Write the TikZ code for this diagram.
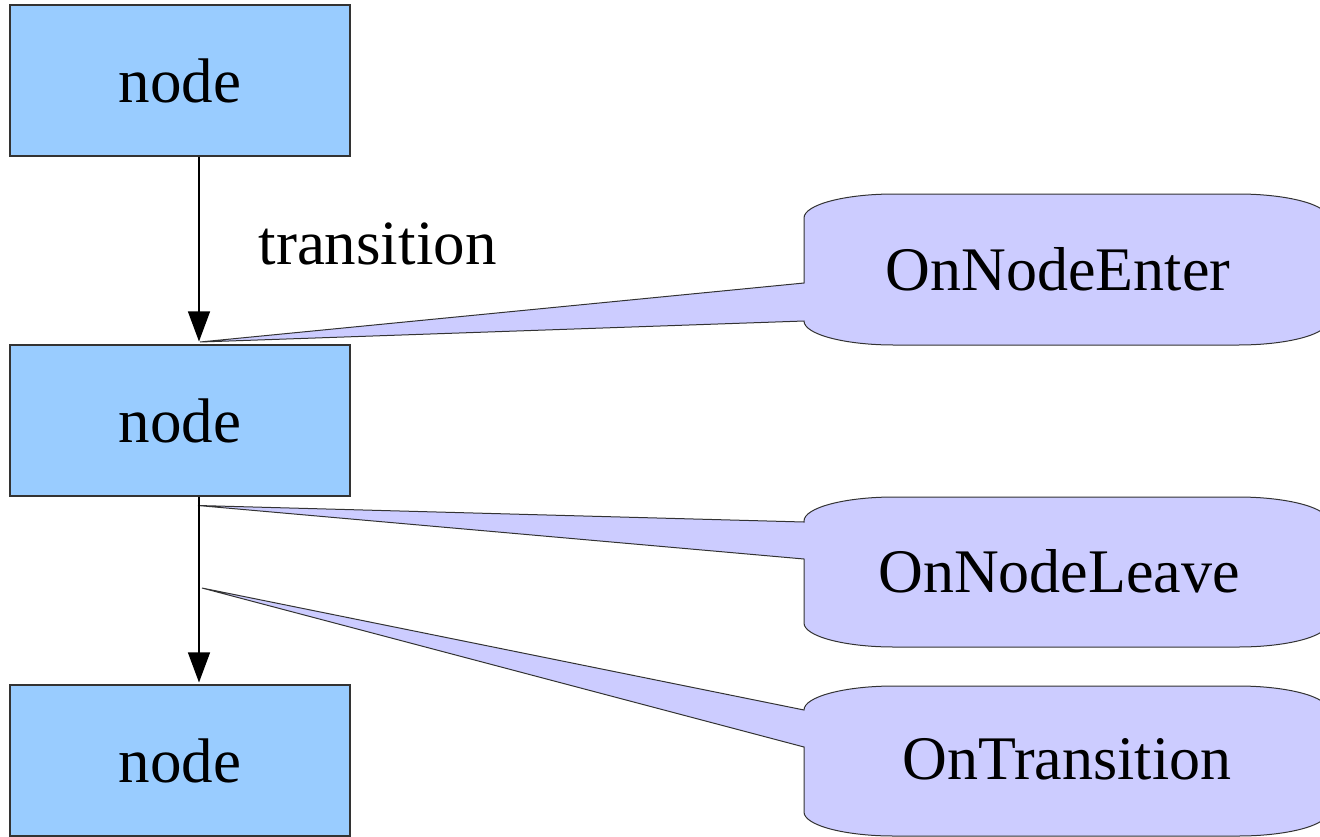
\documentclass[tikz,border=0pt]{standalone}
\usepackage{fontspec}
\setmainfont{Liberation Serif}
\usetikzlibrary{arrows.meta,calc}
\definecolor{boxblue}{HTML}{99CCFF}
\definecolor{bubblelilac}{HTML}{CCCCFF}
\definecolor{edgegray}{HTML}{333333}

% rounded speech bubble with a wedge-shaped tail on its left side
% #1 left, #2 top, #3 right, #4 bottom, #5/#6 tail base (upper/lower), #7 tail tip
\newcommand\drawbubble[7]{%
  \draw[bubble] (#1,#2+24) arc[start angle=180,end angle=90,x radius=90pt,y radius=24pt]
    -- (#3-90,#2) arc[start angle=90,end angle=0,x radius=90pt,y radius=24pt]
    -- (#3,#4-24) arc[start angle=0,end angle=-90,x radius=90pt,y radius=24pt]
    -- (#1+90,#4) arc[start angle=-90,end angle=-180,x radius=90pt,y radius=24pt]
    -- (#1,#6) -- (#7) -- (#1,#5) -- cycle;}

\begin{document}
\begin{tikzpicture}[x=1pt,y=-1pt,
  statebox/.style={draw=edgegray, line width=1.1pt, fill=boxblue,
    minimum width=340pt, minimum height=151pt, inner sep=0pt,
    font=\fontsize{63}{70}\selectfont},
  flow/.style={draw=black, line width=1.2pt, -{Triangle[length=30pt,width=22pt]}},
  bubble/.style={draw=edgegray, line width=1pt, fill=bubblelilac, line join=miter},
  bubbletext/.style={inner sep=0pt, font=\fontsize{62}{70}\selectfont},
  edgetext/.style={inner sep=0pt, font=\fontsize{63}{70}\selectfont}]
\useasboundingbox (0,0) rectangle (1320,836);

% state boxes
\node[statebox] (n1) at (180,80.5) {node};
\node[statebox] (n2) at (180,420.5) {node};
\node[statebox] (n3) at (180,760.5) {node};

% tips of the bubble tails
\coordinate (p1) at (200,342);
\coordinate (p2) at (198,505.5);
\coordinate (p3) at (202,588);

% event bubbles
\drawbubble{804}{194}{1328}{345}{283}{321}{p1}
\drawbubble{804}{497}{1328}{647}{522}{559}{p2}
\drawbubble{804}{686}{1328}{836}{710}{747}{p3}

\node[bubbletext] (c1) at (1058,269) {OnNodeEnter};
\node[bubbletext] (c2) at (1059,571) {OnNodeLeave};
\node[bubbletext] (c3) at (1067,759) {OnTransition};

% transitions between the boxes
\coordinate (ax) at (199,0);
\draw[flow, shorten >=3pt] (n1.south -| ax) -- (n2.north -| ax);
\draw[flow, shorten >=2pt] (n2.south -| ax) -- (n3.north -| ax);
\node[edgetext] (tr) at (377.5,243.5) {transition};
\end{tikzpicture}
\end{document}
